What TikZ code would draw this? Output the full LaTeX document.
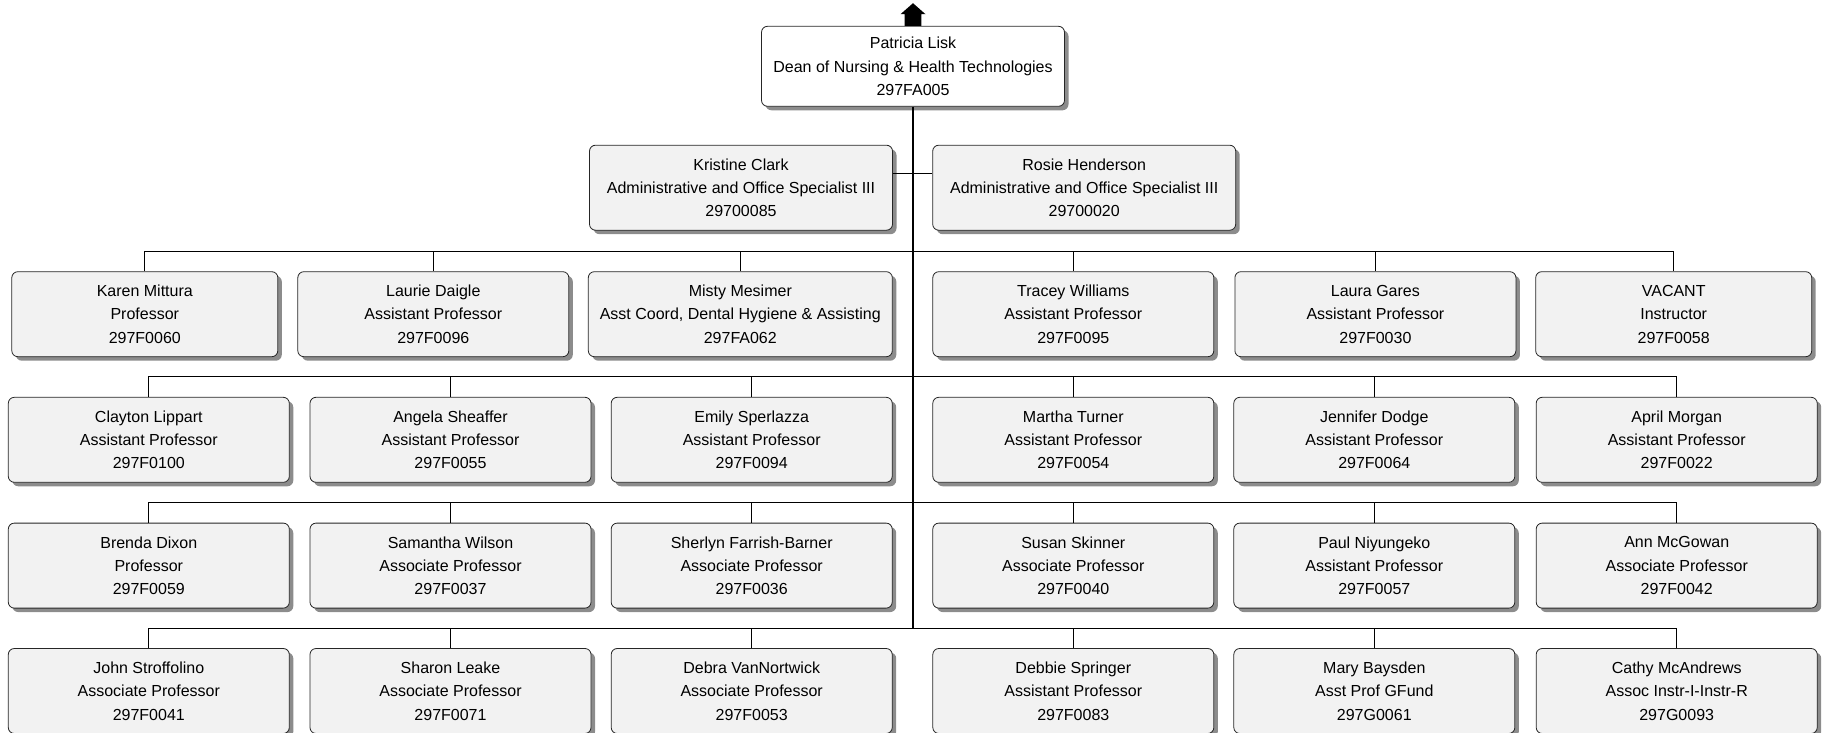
\documentclass[tikz,border=0pt]{standalone}
\usepackage{fontspec}
\setmainfont{Liberation Sans}
\usetikzlibrary{shadows}

\tikzset{
  posbox/.style={draw=black!85, line width=0.8pt, fill=black!5, rounded corners=6pt,
    minimum height=85pt, minimum width=#1, inner sep=4pt, align=center,
    font=\fontsize{16}{23.3}\selectfont,
    drop shadow={shadow xshift=4pt, shadow yshift=-4pt, fill=black!45, opacity=1}},
  posbox/.default=281pt,
  link/.style={draw=black, line width=1pt},
  trunk/.style={draw=black, line width=1.8pt}
}

\begin{document}
\begin{tikzpicture}[x=1pt, y=-1pt]
            \useasboundingbox (0,0) rectangle (1823,733);

            % Dean
            \node[posbox=303pt, fill=white, minimum height=80pt] (lisk) at (913,66.3) {Patricia Lisk\\Dean of Nursing \& Health Technologies\\297FA005};
            \fill[black] ([xshift=-8.3pt]lisk.north) -- ++(0,-11.7) -- ++(-4.2,0) -- ++(12.5,-11)
                -- ++(12.5,11) -- ++(-4.2,0) -- ++(0,11.7) -- cycle;

            % Office staff
            \node[posbox=303pt] (clark) at (741,187.7) {Kristine Clark\\Administrative and Office Specialist III\\29700085};
            \node[posbox=303pt] (henderson) at (1084.2,187.7) {Rosie Henderson\\Administrative and Office Specialist III\\29700020};

            % Faculty, first row
            \node[posbox=266pt] (mittura) at (144.8,314.2) {Karen Mittura\\Professor\\297F0060};
            \node[posbox=271pt] (daigle) at (433.3,314.2) {Laurie Daigle\\Assistant Professor\\297F0096};
            \node[posbox=304pt] (mesimer) at (740.3,314.2) {Misty Mesimer\\Asst Coord, Dental Hygiene \& Assisting\\297FA062};
            \node[posbox] (williams) at (1073.3,314.2) {Tracey Williams\\Assistant Professor\\297F0095};
            \node[posbox] (gares) at (1375.4,314.2) {Laura Gares\\Assistant Professor\\297F0030};
            \node[posbox=276pt] (vacant) at (1673.7,314.2) {VACANT\\Instructor\\297F0058};

            % Faculty, second row
            \node[posbox] (lippart) at (148.8,439.8) {Clayton Lippart\\Assistant Professor\\297F0100};
            \node[posbox] (sheaffer) at (450.5,439.8) {Angela Sheaffer\\Assistant Professor\\297F0055};
            \node[posbox] (sperlazza) at (751.7,439.8) {Emily Sperlazza\\Assistant Professor\\297F0094};
            \node[posbox] (turner) at (1073.3,439.8) {Martha Turner\\Assistant Professor\\297F0054};
            \node[posbox] (dodge) at (1374.3,439.8) {Jennifer Dodge\\Assistant Professor\\297F0064};
            \node[posbox] (morgan) at (1676.7,439.8) {April Morgan\\Assistant Professor\\297F0022};

            % Faculty, third row
            \node[posbox] (dixon) at (148.8,565.6) {Brenda Dixon\\Professor\\297F0059};
            \node[posbox] (wilson) at (450.5,565.6) {Samantha Wilson\\Associate Professor\\297F0037};
            \node[posbox] (farrish) at (751.7,565.6) {Sherlyn Farrish-Barner\\Associate Professor\\297F0036};
            \node[posbox] (skinner) at (1073.3,565.6) {Susan Skinner\\Associate Professor\\297F0040};
            \node[posbox] (niyungeko) at (1374.3,565.6) {Paul Niyungeko\\Assistant Professor\\297F0057};
            \node[posbox] (mcgowan) at (1676.7,565.6) {Ann McGowan\\Associate Professor\\297F0042};

            % Faculty, fourth row
            \node[posbox] (stroffolino) at (148.8,691) {John Stroffolino\\Associate Professor\\297F0041};
            \node[posbox] (leake) at (450.5,691) {Sharon Leake\\Associate Professor\\297F0071};
            \node[posbox] (vannortwick) at (751.7,691) {Debra VanNortwick\\Associate Professor\\297F0053};
            \node[posbox] (springer) at (1073.3,691) {Debbie Springer\\Assistant Professor\\297F0083};
            \node[posbox] (baysden) at (1374.3,691) {Mary Baysden\\Asst Prof GFund\\297G0061};
            \node[posbox] (mcandrews) at (1676.7,691) {Cathy McAndrews\\Assoc Instr-I-Instr-R\\297G0093};

            % Reporting lines
            \coordinate (rowa) at (913,251);
            \coordinate (rowb) at (913,376.7);
            \coordinate (rowc) at (913,502.7);
            \coordinate (rowd) at (913,628.3);
            \draw[link] ([yshift=14.4pt]clark.east) -- ([yshift=14.4pt]henderson.west);
            \draw[link] (rowa) -| (mittura.north) (rowa) -| (daigle.north) (rowa) -| (mesimer.north) (rowa) -| (williams.north) (rowa) -| (gares.north) (rowa) -| (vacant.north);
            \draw[link] (rowb) -| (lippart.north) (rowb) -| (sheaffer.north) (rowb) -| (sperlazza.north) (rowb) -| (turner.north) (rowb) -| (dodge.north) (rowb) -| (morgan.north);
            \draw[link] (rowc) -| (dixon.north) (rowc) -| (wilson.north) (rowc) -| (farrish.north) (rowc) -| (skinner.north) (rowc) -| (niyungeko.north) (rowc) -| (mcgowan.north);
            \draw[link] (rowd) -| (stroffolino.north) (rowd) -| (leake.north) (rowd) -| (vannortwick.north) (rowd) -| (springer.north) (rowd) -| (baysden.north) (rowd) -| (mcandrews.north);
            \draw[trunk] (lisk.south) -- (rowd);
        \end{tikzpicture}
\end{document}
